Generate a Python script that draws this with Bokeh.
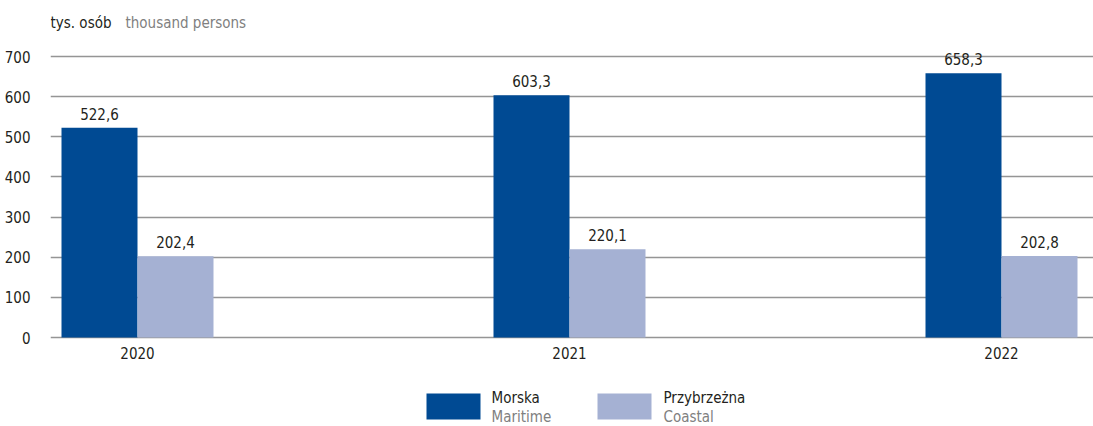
from bokeh.plotting import figure
from bokeh.models import Range1d, FixedTicker, ColumnDataSource
from bokeh.core.properties import value
from bokeh.embed import file_html
from bokeh.resources import INLINE

years = ["2020", "2021", "2022"]
maritime = [522.6, 603.3, 658.3]
coastal = [202.4, 220.1, 202.8]
y_ticks = [0, 100, 200, 300, 400, 500, 600, 700]
series_pl = ["Morska", "Przybrzeżna"]
series_en = ["Maritime", "Coastal"]
unit_pl = "tys. osób"
unit_en = "thousand persons"

FONT = value("Liberation Sans Narrow, DejaVu Sans Condensed, sans-serif")
DARK = "#231f20"
GRAY = "#808080"
C_MAR = "#004a93"
C_COA = "#a5b1d3"

W, H = 1093, 426
LEFT = 50
PX_X = 432.0          # px per category
PX_Y = 0.4014         # px per unit
ZERO = 337            # page y of value 0
x0 = -(137 - LEFT) / PX_X
x1 = x0 + (W - LEFT) / PX_X
y_top = ZERO / PX_Y
y_bot = -(H - ZERO) / PX_Y

p = figure(width=W, height=H, output_backend="svg", toolbar_location=None,
           x_range=Range1d(x0, x1), y_range=Range1d(y_bot, y_top),
           min_border_left=LEFT, min_border_right=0, min_border_top=0, min_border_bottom=0)
p.outline_line_color = None
p.xaxis.visible = False
p.xgrid.visible = False
p.yaxis.ticker = FixedTicker(ticks=y_ticks)
p.ygrid.ticker = FixedTicker(ticks=y_ticks)
p.ygrid.grid_line_color = "#959595"
p.ygrid.grid_line_width = 1.3
p.yaxis.axis_line_color = None
p.yaxis.major_tick_line_color = None
p.yaxis.minor_tick_line_color = None
p.yaxis.major_label_standoff = 14
p.yaxis.major_label_text_font = "Liberation Sans Narrow, DejaVu Sans Condensed, sans-serif"
p.yaxis.major_label_text_font_size = "15px"
p.yaxis.major_label_text_color = DARK

bw = 76 / PX_X
xs = list(range(len(years)))
src = ColumnDataSource(dict(
    x=xs, years=years, mar=maritime, coa=coastal,
    mar_lbl=[f"{v:.1f}".replace(".", ",") for v in maritime],
    coa_lbl=[f"{v:.1f}".replace(".", ",") for v in coastal],
    xm=[x - bw / 2 for x in xs], xc=[x + bw / 2 for x in xs],
))
p.vbar(x="xm", top="mar", bottom=0, width=bw, source=src, fill_color=C_MAR, line_color=None)
p.vbar(x="xc", top="coa", bottom=0, width=bw, source=src, fill_color=C_COA, line_color=None)

p.text(x="xm", y="mar", text="mar_lbl", source=src, text_align="center", text_baseline="bottom",
       y_offset=-8, text_font=FONT, text_font_size="15px", text_color=DARK)
p.text(x="xc", y="coa", text="coa_lbl", source=src, text_align="center", text_baseline="bottom",
       y_offset=-8, text_font=FONT, text_font_size="15px", text_color=DARK)

# year labels
p.text(x="x", y=0, text="years", source=src, text_align="center", text_baseline="top",
       y_offset=9, text_font=FONT, text_font_size="15px", text_color=DARK)

# unit title
p.text(x=[x0], y=[(ZERO - 22) / PX_Y], text=[unit_pl], text_align="left", text_baseline="middle",
       text_font=FONT, text_font_size="15px", text_color=DARK)
p.text(x=[x0 + 75 / PX_X], y=[(ZERO - 22) / PX_Y], text=[unit_en], text_align="left",
       text_baseline="middle", text_font=FONT, text_font_size="15px", text_color=GRAY)

# legend
sw_x = [(453 - 137) / PX_X, (624 - 137) / PX_X]
sw_y = -(406 - ZERO) / PX_Y
p.rect(x=sw_x, y=[sw_y] * 2, width=54 / PX_X, height=26 / PX_Y,
       fill_color=[C_MAR, C_COA], line_color=None)
tx = [(491 - 137) / PX_X, (663 - 137) / PX_X]
p.text(x=tx, y=[-(397 - ZERO) / PX_Y] * 2, text=series_pl, text_align="left", text_baseline="middle",
       text_font=FONT, text_font_size="15px", text_color=DARK)
p.text(x=tx, y=[-(416 - ZERO) / PX_Y] * 2, text=series_en, text_align="left", text_baseline="middle",
       text_font=FONT, text_font_size="15px", text_color=GRAY)

open("out.html", "w").write(file_html(p, INLINE))
